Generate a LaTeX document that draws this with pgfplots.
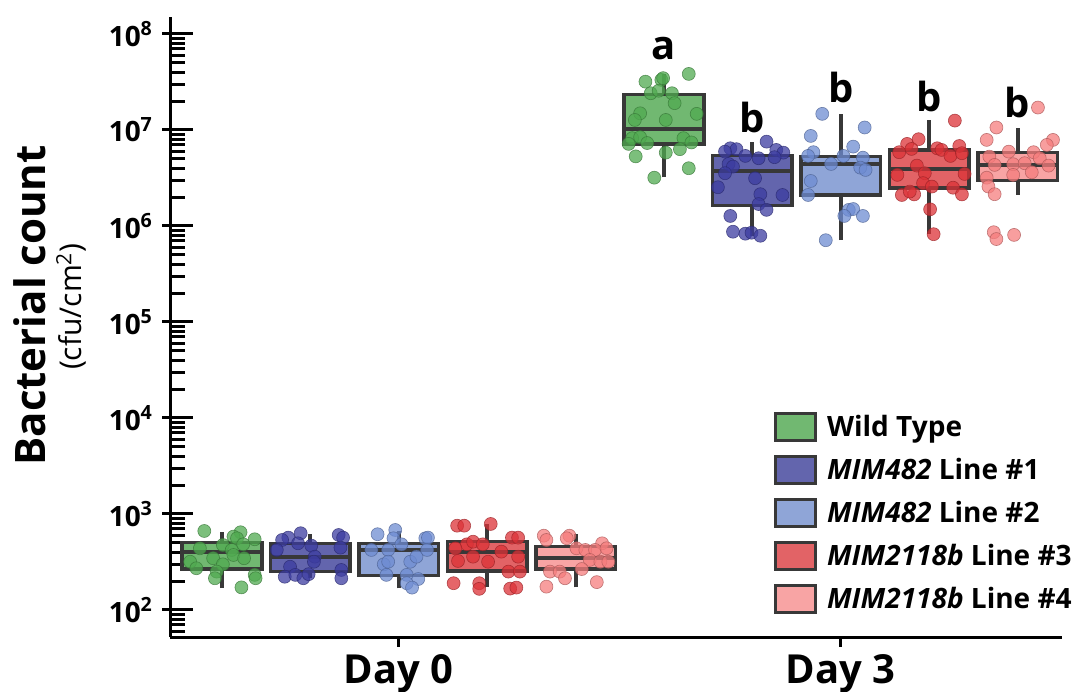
\documentclass[border=0pt]{standalone}
\usepackage{fontspec}
\setmainfont{Open Sans}
\usepackage{pgfplots}
\pgfplotsset{compat=1.18}
\definecolor{cEdge}{RGB}{56,56,56}
\definecolor{bWT}{RGB}{113,184,113}
\definecolor{bL1}{RGB}{99,101,173}
\definecolor{bL2}{RGB}{143,165,215}
\definecolor{bL3}{RGB}{226,99,102}
\definecolor{bL4}{RGB}{248,164,164}
\definecolor{pWT}{RGB}{80,170,80}
\definecolor{pL1}{RGB}{60,60,160}
\definecolor{pL2}{RGB}{110,140,210}
\definecolor{pL3}{RGB}{220,50,55}
\definecolor{pL4}{RGB}{245,125,125}
% box: #1 left, #2 centre, #3 right, #4 fill, #5 lower whisker, #6 lower quartile, #7 median, #8 upper quartile, #9 upper whisker
\newcommand{\bx}[9]{%
  \addplot[forget plot, cEdge, line width=2pt] coordinates {(#2,#5) (#2,#9)};
  \addplot[forget plot, fill=#4, draw=cEdge, line width=1.75pt] coordinates {(#1,#6) (#3,#6) (#3,#8) (#1,#8)} -- cycle;
  \addplot[forget plot, cEdge, line width=2pt] coordinates {(#1,#7) (#3,#7)};
}
\begin{document}
\begin{tikzpicture}
\begin{axis}[
  scale only axis, width=446pt, height=310pt,
  ymode=log, xmin=-0.588, xmax=9.502, ymin=52.3, ymax=1.5e8,
  clip=false,
  axis x line=bottom, axis y line=left,
  axis line style={-, line width=1.5pt, black},
  xtick={2,7}, xticklabels={Day 0, Day 3},
  x tick style={draw=none},
  xticklabel style={font=\fontsize{20}{24}\selectfont\bfseries, yshift=-5pt},
  ytick={1e2,1e3,1e4,1e5,1e6,1e7,1e8},
  yticklabels={\textbf{10\textsuperscript{2}},\textbf{10\textsuperscript{3}},\textbf{10\textsuperscript{4}},\textbf{10\textsuperscript{5}},\textbf{10\textsuperscript{6}},\textbf{10\textsuperscript{7}},\textbf{10\textsuperscript{8}}},
  yticklabel style={font=\fontsize{14}{17}\selectfont\bfseries, xshift=-5pt},
  minor ytick={60,70,80,90,200,300,400,500,600,700,800,900,2000,3000,4000,5000,6000,7000,8000,9000,2e4,3e4,4e4,5e4,6e4,7e4,8e4,9e4,2e5,3e5,4e5,5e5,6e5,7e5,8e5,9e5,2e6,3e6,4e6,5e6,6e6,7e6,8e6,9e6,2e7,3e7,4e7,5e7,6e7,7e7,8e7,9e7},
  tick align=inside, major tick length=15.5pt, minor tick length=7.5pt,
  y tick style={xshift=-4pt, line width=1.5pt, black},
  every minor tick/.append style={xshift=4pt, line width=1pt},
  ylabel={Bacterial count},
  ylabel style={font=\fontsize{21}{24}\selectfont\bfseries, inner sep=0pt, at={(axis description cs:-0.176,0.535)}, anchor=north},
  legend style={at={(axis description cs:0.670,0.37)}, anchor=north west, draw=none, fill=none,
    font=\fontsize{14}{17}\selectfont\bfseries, row sep=6.5pt, nodes={inner sep=1pt},
    /tikz/every odd column/.append style={column sep=4pt}},
  legend cell align=left,
  legend image code/.code={\draw[#1, line width=1.5pt] (0pt,-6.75pt) rectangle (20pt,6.75pt);},
]
\addlegendimage{fill=bWT, draw=cEdge}\addlegendentry{Wild Type}
\addlegendimage{fill=bL1, draw=cEdge}\addlegendentry{\textit{MIM482} Line \#1}
\addlegendimage{fill=bL2, draw=cEdge}\addlegendentry{\textit{MIM482} Line \#2}
\addlegendimage{fill=bL3, draw=cEdge}\addlegendentry{\textit{MIM2118b} Line \#3}
\addlegendimage{fill=bL4, draw=cEdge}\addlegendentry{\textit{MIM2118b} Line \#4}

% boxes (Day 0: positions 0-4, Day 3: positions 5-9)
\bx{-0.45}{0}{0.45}{bWT}{169}{267}{405}{507}{649}
\bx{0.55}{1}{1.45}{bL1}{215}{251}{359}{495}{619}
\bx{1.55}{2}{2.45}{bL2}{168}{228}{422}{495}{670}
\bx{2.55}{3}{3.45}{bL3}{172}{255}{399}{515}{781}
\bx{3.55}{4}{4.45}{bL4}{172}{267}{351}{457}{615}
\bx{4.55}{5}{5.45}{bWT}{3.2e6}{7.15e6}{1.02e7}{2.35e7}{3.8e7}
\bx{5.55}{6}{6.45}{bL1}{7.9e5}{1.63e6}{3.77e6}{5.4e6}{7.4e6}
\bx{6.55}{7}{7.45}{bL2}{7.1e5}{2.1e6}{4.42e6}{5.27e6}{1.46e7}
\bx{7.55}{8}{8.45}{bL3}{8.3e5}{2.47e6}{3.89e6}{6.19e6}{1.27e7}
\bx{8.55}{9}{9.45}{bL4}{2.1e6}{2.97e6}{4.32e6}{5.8e6}{1.04e7}

% jittered points
\addplot[forget plot, only marks, mark=*, mark size=3.25pt, mark options={fill=pWT, draw=pWT!70!black, line width=0.3pt, opacity=0.75}] table[row sep=\\] {
x y\\
-0.20 665\\ 0.21 645\\ 0.13 581\\ 0.17 558\\ 0.37 545\\ -0.25 439\\ 0.01 475\\ 0.24 483\\ 0.11 422\\ 0.13 374\\
-0.10 346\\ 0.25 346\\ -0.36 318\\ 0.01 299\\ -0.29 272\\ -0.06 251\\ -0.08 214\\ 0.37 232\\ 0.38 214\\ 0.22 172\\
4.79 3.18e7\\ 4.97 3.32e7\\ 4.99 3.46e7\\ 5.28 3.83e7\\ 4.85 2.41e7\\ 4.94 2.56e7\\ 5.09 2.41e7\\ 5.12 1.90e7\\
4.73 1.49e7\\ 4.67 1.27e7\\ 5.02 1.27e7\\ 5.37 1.47e7\\ 4.64 8.2e6\\ 4.73 8.4e6\\ 4.81 7.3e6\\ 4.60 7.15e6\\
5.22 8.2e6\\ 5.31 7.4e6\\ 5.18 6.3e6\\ 5.02 5.8e6\\ 4.68 5.3e6\\ 5.28 3.99e6\\ 4.89 3.18e6\\
};
\addplot[forget plot, only marks, mark=*, mark size=3.25pt, mark options={fill=pL1, draw=pL1!70!black, line width=0.3pt, opacity=0.75}] table[row sep=\\] {
x y\\
0.89 630\\ 0.75 567\\ 0.68 536\\ 1.32 604\\ 1.37 567\\ 0.86 495\\ 1.01 468\\ 1.34 446\\ 0.62 422\\ 1.05 359\\
1.04 318\\ 0.77 282\\ 1.35 261\\ 0.71 222\\ 0.83 232\\ 0.92 214\\ 0.98 236\\ 1.35 214\\
6.16 7.55e6\\ 5.75 6.44e6\\ 5.82 6.3e6\\ 5.69 5.94e6\\ 6.27 6.19e6\\ 6.35 5.8e6\\ 5.92 5.36e6\\ 6.07 5.07e6\\
6.25 5.2e6\\ 5.73 4.42e6\\ 5.78 4.15e6\\ 5.69 3.54e6\\ 6.03 3.14e6\\ 5.61 2.53e6\\ 6.09 2.14e6\\ 6.34 2.1e6\\
6.07 1.69e6\\ 6.16 1.47e6\\ 5.75 1.27e6\\ 5.78 8.7e5\\ 5.92 8.3e5\\ 5.99 8.5e5\\ 6.09 7.9e5\\
};
\addplot[forget plot, only marks, mark=*, mark size=3.25pt, mark options={fill=pL2, draw=pL2!70!black, line width=0.3pt, opacity=0.75}] table[row sep=\\] {
x y\\
1.76 615\\ 1.96 681\\ 1.94 558\\ 2.03 483\\ 2.30 558\\ 2.33 567\\ 1.69 422\\ 1.88 422\\ 1.83 299\\ 1.88 318\\
2.13 318\\ 2.20 359\\ 2.32 422\\ 1.86 232\\ 2.09 232\\ 2.22 210\\ 2.09 190\\ 2.15 171\\
6.79 1.47e7\\ 7.27 1.06e7\\ 6.66 8.66e6\\ 7.14 6.7e6\\ 6.69 5.86e6\\ 6.63 5.36e6\\ 7.03 5.36e6\\ 7.25 5.14e6\\
6.89 4.42e6\\ 7.22 4.05e6\\ 7.28 3.83e6\\ 6.66 2.94e6\\ 6.63 2.1e6\\ 7.09 1.47e6\\ 7.14 1.5e6\\ 7.04 1.27e6\\
7.25 1.27e6\\ 6.83 7.1e5\\
};
\addplot[forget plot, only marks, mark=*, mark size=3.25pt, mark options={fill=pL3, draw=pL3!70!black, line width=0.3pt, opacity=0.75}] table[row sep=\\] {
x y\\
2.66 755\\ 2.74 755\\ 3.04 787\\ 3.28 567\\ 3.35 567\\ 2.77 483\\ 2.84 514\\ 2.95 483\\ 2.64 439\\ 3.16 405\\
2.84 359\\ 3.35 359\\ 2.67 324\\ 3.01 318\\ 3.24 251\\ 3.37 251\\ 2.62 190\\ 2.91 190\\ 2.91 166\\ 3.26 167\\ 3.33 171\\
8.29 1.25e7\\ 7.75 7.15e6\\ 7.88 8.0e6\\ 8.34 6.8e6\\ 7.66 5.86e6\\ 7.80 6.34e6\\ 8.09 6.44e6\\ 8.14 6.19e6\\
8.24 5.36e6\\ 8.37 5.72e6\\ 7.86 4.25e6\\ 7.64 3.4e6\\ 7.95 3.54e6\\ 8.40 3.48e6\\ 7.93 2.79e6\\ 8.03 2.57e6\\
8.27 2.5e6\\ 7.69 2.1e6\\ 7.83 2.13e6\\ 7.78 2.28e6\\ 8.37 2.13e6\\ 8.01 1.49e6\\ 8.05 8.2e5\\
};
\addplot[forget plot, only marks, mark=*, mark size=3.25pt, mark options={fill=pL4, draw=pL4!70!black, line width=0.3pt, opacity=0.75}] table[row sep=\\] {
x y\\
3.64 594\\ 3.67 536\\ 3.93 594\\ 3.90 558\\ 4.30 495\\ 4.01 439\\ 4.11 422\\ 4.22 422\\ 4.35 439\\ 4.16 332\\
4.28 318\\ 4.37 318\\ 3.71 251\\ 3.82 251\\ 4.07 267\\ 3.88 214\\ 4.24 195\\ 3.67 175\\
9.23 1.71e7\\ 8.76 1.06e7\\ 8.65 7.87e6\\ 9.40 7.87e6\\ 9.33 6.98e6\\ 8.90 5.94e6\\ 9.18 5.86e6\\ 9.25 5.07e6\\
8.68 5.27e6\\ 8.74 4.32e6\\ 8.95 4.39e6\\ 9.08 4.5e6\\ 9.35 4.25e6\\ 9.16 3.62e6\\ 8.95 3.4e6\\ 8.65 3.18e6\\
8.67 2.57e6\\ 8.74 2.14e6\\ 8.73 8.6e5\\ 8.76 7.3e5\\ 8.96 8.06e5\\
};

% significance letters
\node[anchor=base, font=\fontsize{20}{24}\selectfont\bfseries] at (axis cs:5,5.36e7) {a};
\node[anchor=base, font=\fontsize{20}{24}\selectfont\bfseries] at (axis cs:6,9.5e6) {b};
\node[anchor=base, font=\fontsize{20}{24}\selectfont\bfseries] at (axis cs:7,1.91e7) {b};
\node[anchor=base, font=\fontsize{20}{24}\selectfont\bfseries] at (axis cs:8,1.54e7) {b};
\node[anchor=base, font=\fontsize{20}{24}\selectfont\bfseries] at (axis cs:9,1.36e7) {b};

% unit line of the y label
\node[rotate=90, anchor=north, inner sep=0pt, font=\fontsize{15}{18}\selectfont] at (axis description cs:-0.128,0.533) {(cfu/cm\textsuperscript{2})};

% x ticks (outward)
\draw[line width=1.5pt] (axis cs:2,52.3) -- ++(0pt,-5pt);
\draw[line width=1.5pt] (axis cs:7,52.3) -- ++(0pt,-5pt);

\coordinate (SW) at (rel axis cs:0,0);
\coordinate (NE) at (rel axis cs:1,1);
\end{axis}
\pgfresetboundingbox
\path[use as bounding box] ([shift={(-85pt,-27pt)}]SW) rectangle ([shift={(8.5pt,8.5pt)}]NE);
\end{tikzpicture}
\end{document}
